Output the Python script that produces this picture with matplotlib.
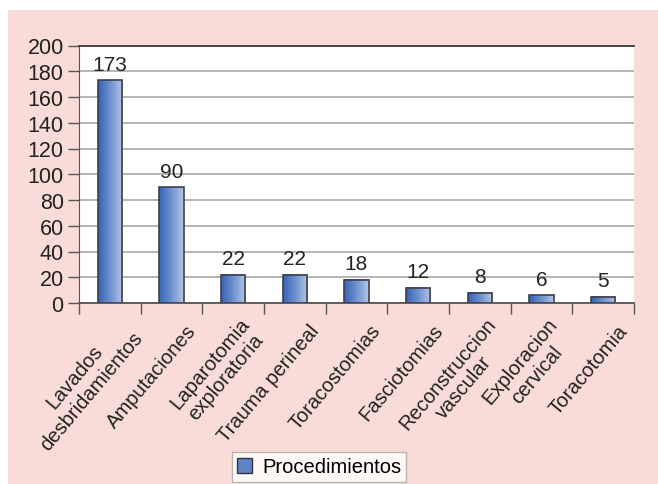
import numpy as np
import matplotlib
matplotlib.use("Agg")
import matplotlib.pyplot as plt
from matplotlib.colors import LinearSegmentedColormap
from matplotlib.patches import Rectangle
import matplotlib.transforms as mtransforms

plt.rcParams['font.family'] = ['Liberation Sans', 'DejaVu Sans']

# data
categories = ["Lavados\ndesbridamientos", "Amputaciones", "Laparotomia\nexploratoria",
              "Trauma perineal", "Toracostomias", "Fasciotomias",
              "Reconstruccion\nvascular", "Exploracion\ncervical", "Toracotomia"]
values = [173, 90, 22, 22, 18, 12, 8, 6, 5]
series_name = "Procedimientos"

pink = "#f9dcd7"
grad = LinearSegmentedColormap.from_list("bar", ["#3563b3", "#6f92d0", "#b4c6e6"])

fig = plt.figure(figsize=(6.58, 4.85), dpi=100, facecolor="white")
# pink panel behind everything
fig.patches.append(Rectangle((8 / 658, 0), 1, 1 - 11 / 485, transform=fig.transFigure,
                             facecolor=pink, edgecolor="none", zorder=-10))

ax = fig.add_axes([79 / 658, (485 - 304) / 485, (634 - 79) / 658, (304 - 46.5) / 485])
ax.set_facecolor("white")

x = np.arange(len(values))
width = 0.39
gradient = np.linspace(0, 1, 64).reshape(1, -1)
for xi, v in zip(x, values):
    ax.imshow(gradient, cmap=grad, extent=[xi - width / 2, xi + width / 2, 0, v],
              aspect="auto", zorder=3, interpolation="bilinear")
    ax.add_patch(Rectangle((xi - width / 2, 0), width, v, facecolor="none",
                           edgecolor="#3f3f4a", linewidth=1.2, zorder=4))
    ax.text(xi, v + 5, str(v), ha="center", va="bottom", fontsize=15, color="#222222")

ax.set_xlim(-0.5, len(values) - 0.5)
ax.set_ylim(0, 200)
ax.set_yticks(np.arange(0, 201, 20))
ax.yaxis.grid(True, color="#b4b4b4", linewidth=1.4, zorder=0)
ax.set_axisbelow(True)
ax.tick_params(axis="y", labelsize=15.5, length=8, width=1, color="#555555", pad=3,
               labelcolor="#222222")

# ticks at category boundaries, labels at centers
ax.set_xticks(np.arange(-0.5, len(values), 1))
ax.set_xticklabels([])
ax.set_xticks(x, minor=True)
ax.set_xticklabels(categories, minor=True, rotation=50, ha="right", va="center",
                   rotation_mode="anchor", fontsize=14.5, multialignment="center",
                   color="#222222", linespacing=1.15)
ax.tick_params(axis="x", which="major", length=8, width=1, color="#555555")
ax.tick_params(axis="x", which="minor", length=0, pad=17)
offset = mtransforms.ScaledTranslation(21 / 100, 0, fig.dpi_scale_trans)
for lab in ax.get_xticklabels(minor=True):
    lab.set_transform(lab.get_transform() + offset)

ax.spines["right"].set_visible(False)
ax.spines["top"].set_color("#444444")
ax.spines["top"].set_linewidth(1.4)
ax.spines["left"].set_color("#555555")
ax.spines["bottom"].set_color("#555555")
ax.spines["bottom"].set_linewidth(1.3)

handle = Rectangle((0, 0), 1, 1, facecolor="#5f84c6", edgecolor="#333344", linewidth=1)
leg = fig.legend([handle], [series_name], loc="center", bbox_to_anchor=(319 / 658, 1 - 468 / 485),
                 fontsize=14.5, frameon=True, fancybox=False, handlelength=0.75,
                 handleheight=0.75, handletextpad=0.5, borderpad=0.25, borderaxespad=0)
leg.get_frame().set_edgecolor("#aaaaaa")
leg.get_frame().set_facecolor("white")

fig.savefig("out.png", dpi=100, facecolor=fig.get_facecolor())
